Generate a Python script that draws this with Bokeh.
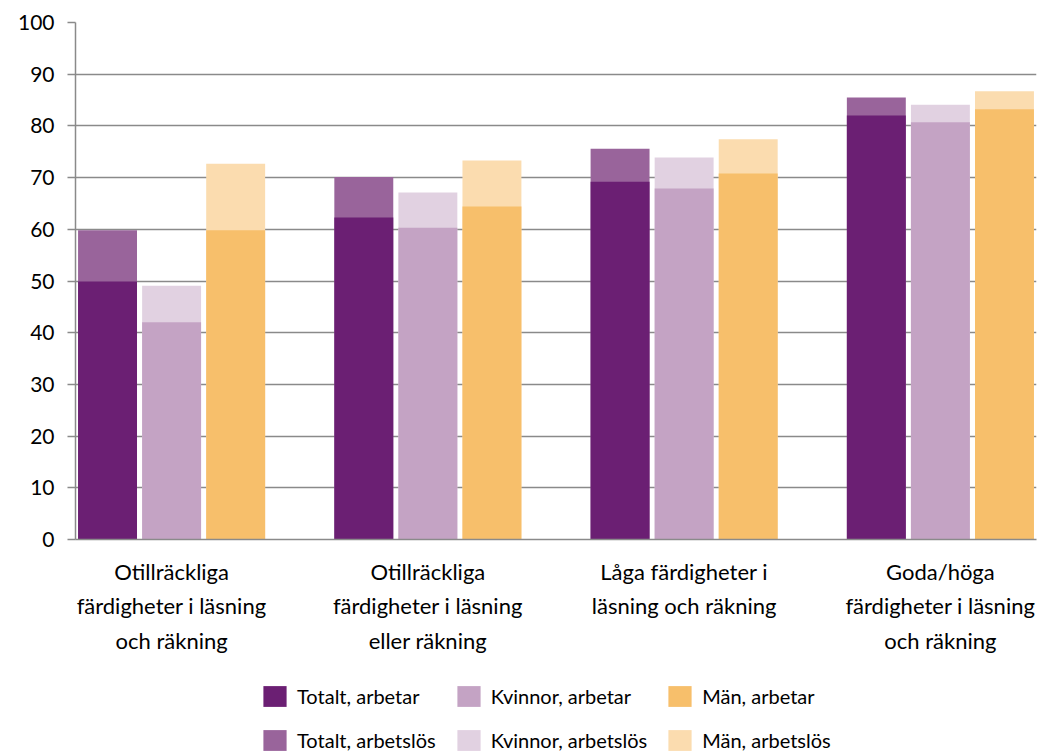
from bokeh.plotting import figure
from bokeh.layouts import column
from bokeh.models import FixedTicker, Legend, LegendItem, Range1d
from bokeh.embed import file_html
from bokeh.resources import INLINE

# ---- data ----
categories = [
    "Otillräckliga\nfärdigheter i läsning\noch räkning",
    "Otillräckliga\nfärdigheter i läsning\neller räkning",
    "Låga färdigheter i\nläsning och räkning",
    "Goda/höga\nfärdigheter i läsning\noch räkning",
]
groups = ["Totalt", "Kvinnor", "Män"]
totalt_arbetar = [49.9, 62.3, 69.2, 82.0]
kvinnor_arbetar = [42.0, 60.3, 67.9, 80.7]
man_arbetar = [59.8, 64.4, 70.8, 83.2]
totalt_arbetslos = [59.8, 70.1, 75.6, 85.5]
kvinnor_arbetslos = [49.1, 67.1, 73.9, 84.1]
man_arbetslos = [72.7, 73.3, 77.4, 86.7]
y_ticks = [0, 10, 20, 30, 40, 50, 60, 70, 80, 90, 100]

col_arbetar = ["#6B1F73", "#C4A3C4", "#F7BF6B"]
col_arbetslos = ["#99649B", "#E1D1E1", "#FBDCAF"]

FONT = "Lato"

p = figure(width=1040, height=664, output_backend="svg", toolbar_location=None,
           x_range=Range1d(0, 15), y_range=Range1d(0, 100),
           min_border_left=75, min_border_top=22, min_border_right=4,
           min_border_bottom=125)
p.outline_line_color = None
p.background_fill_color = "white"
p.border_fill_color = "white"

series_arb = [totalt_arbetar, kvinnor_arbetar, man_arbetar]
series_los = [totalt_arbetslos, kvinnor_arbetslos, man_arbetslos]
names = [f"{g}, arbetar" for g in groups]
names_los = [f"{g}, arbetslös" for g in groups]

for k in range(3):
    xs = [4 * i + k + 0.5 for i in range(len(categories))]
    p.vbar(x=xs, top=series_los[k], bottom=0, width=0.92,
           fill_color=col_arbetslos[k], line_color=None)
for k in range(3):
    xs = [4 * i + k + 0.5 for i in range(len(categories))]
    p.vbar(x=xs, top=series_arb[k], bottom=0, width=0.92,
           fill_color=col_arbetar[k], line_color=None)

# axes
p.yaxis.ticker = FixedTicker(ticks=y_ticks)
p.yaxis.minor_tick_line_color = None
p.yaxis.major_tick_out = 8
p.yaxis.major_tick_in = 0
p.yaxis.major_tick_line_color = "#8a8a8a"
p.yaxis.major_tick_line_width = 1.5
p.yaxis.axis_line_color = "#8a8a8a"
p.yaxis.axis_line_width = 1.5
p.yaxis.major_label_text_font = FONT
p.yaxis.major_label_text_font_size = "21px"
p.yaxis.major_label_text_color = "black"
p.yaxis.major_label_standoff = 13

tick_pos = [4 * i + 1.5 for i in range(len(categories))]
p.xaxis.ticker = FixedTicker(ticks=tick_pos)
p.xaxis.major_label_overrides = {t: c for t, c in zip(tick_pos, categories)}
p.xaxis.minor_tick_line_color = None
p.xaxis.major_tick_line_color = None
p.xaxis.major_tick_out = 0
p.xaxis.major_tick_in = 0
p.xaxis.axis_line_color = "#8a8a8a"
p.xaxis.axis_line_width = 1.5
p.xaxis.major_label_text_font = FONT
p.xaxis.major_label_text_font_size = "22px"
p.xaxis.major_label_text_color = "black"
p.xaxis.major_label_text_line_height = 1.28
p.xaxis.major_label_standoff = 18

p.xgrid.grid_line_color = None
p.ygrid.ticker = FixedTicker(ticks=y_ticks)
p.ygrid.grid_line_color = "#8a8a8a"
p.ygrid.grid_line_width = 1.5

# ---- legend strip ----
q = figure(width=1040, height=89, output_backend="svg", toolbar_location=None,
           x_range=Range1d(0, 1), y_range=Range1d(0, 1),
           min_border_left=0, min_border_right=0, min_border_top=0, min_border_bottom=0)
q.axis.visible = False
q.grid.grid_line_color = None
q.outline_line_color = None
q.background_fill_color = "white"
q.border_fill_color = "white"

# off-screen proxy glyphs, used only for the legend swatches
lr_arb = [q.vbar(x=[5], top=[0], bottom=0, width=0.5, fill_color=c, line_color=None)
          for c in col_arbetar]
lr_los = [q.vbar(x=[5], top=[0], bottom=0, width=0.5, fill_color=c, line_color=None)
          for c in col_arbetslos]
items = [LegendItem(label=l, renderers=[r]) for l, r in zip(names, lr_arb)] + \
        [LegendItem(label=l, renderers=[r]) for l, r in zip(names_los, lr_los)]
lg = Legend(items=items, orientation="horizontal", ncols=3, location=(185, 0))
lg.glyph_width = 29
lg.glyph_height = 26
lg.label_standoff = 8
lg.spacing = 18
lg.padding = 0
lg.margin = 0
lg.border_line_color = None
lg.background_fill_alpha = 0
lg.label_text_font = FONT
lg.label_text_font_size = "20px"
lg.label_text_color = "black"
q.add_layout(lg)

layout = column(p, q, spacing=0)
open("out.html", "w").write(file_html(layout, INLINE))
